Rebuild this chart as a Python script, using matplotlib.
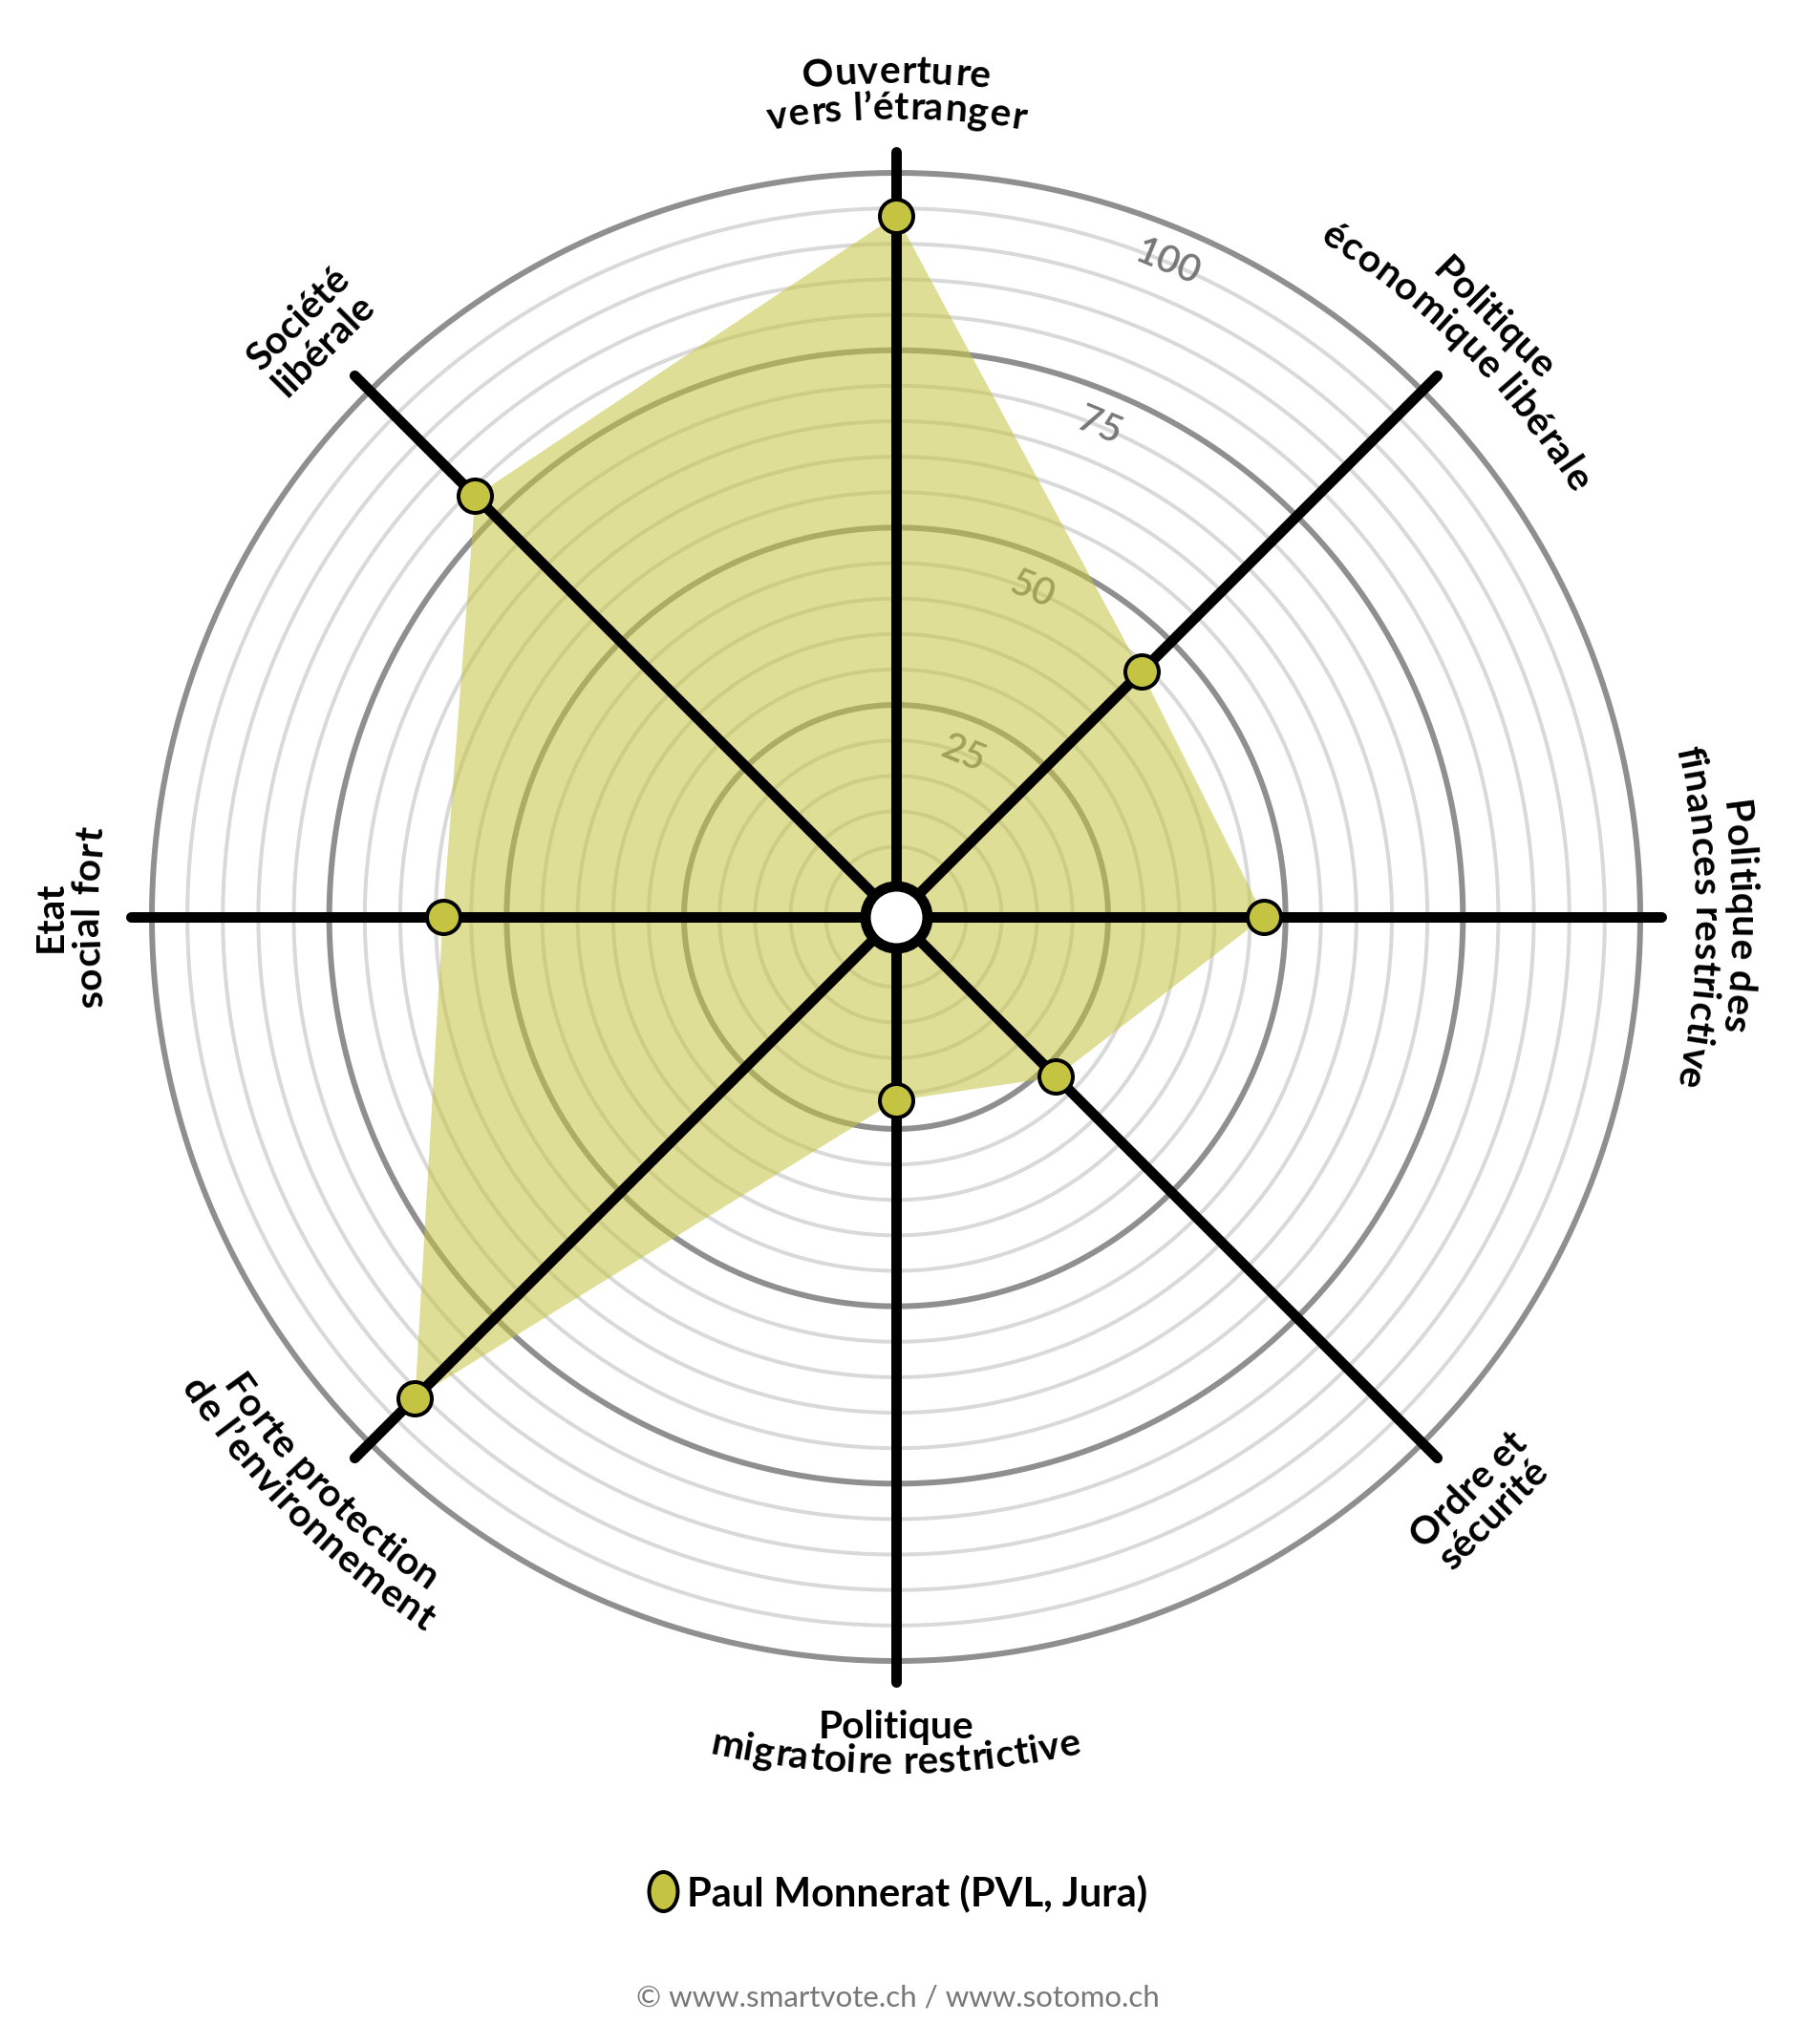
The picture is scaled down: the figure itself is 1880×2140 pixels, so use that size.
import matplotlib
import numpy as np

matplotlib.use("Agg")
import matplotlib.pyplot as plt  # noqa: E402
from matplotlib.font_manager import FontProperties  # noqa: E402
from matplotlib.lines import Line2D  # noqa: E402
from matplotlib.path import Path  # noqa: E402
from matplotlib.textpath import TextPath  # noqa: E402
from matplotlib.transforms import Affine2D  # noqa: E402

# axis labels, clockwise from the top (two lines each)
CATEGORIES = [
    ["Ouverture", "vers l\u2019étranger"],
    ["Politique", "économique libérale"],
    ["Politique des", "finances restrictive"],
    ["Ordre et", "sécurité"],
    ["Politique", "migratoire restrictive"],
    ["Forte protection", "de l\u2019environnement"],
    ["Etat", "social fort"],
    ["Société", "libérale"],
]
VALUES = [94, 44, 47, 27, 21, 91, 59, 79]
SERIES_NAME = "Paul Monnerat (PVL, Jura)"
RING_MAJOR = [25, 50, 75, 100]
RING_MINOR = [v for v in range(5, 100, 5) if v % 25]
TICK_LABELS = ["25", "50", "75", "100"]
SOURCE = "\u00a9 www.smartvote.ch / www.sotomo.ch"

# layout, in output pixels
W, H, DPI = 1880, 2140, 100
CX, CY = 938, 960
PX_PER_UNIT = 7.427
R0_PX = 36.3
RMAX = 106
RORIGIN = -R0_PX / PX_PER_UNIT

FILL = "#c5c442"
DARK_RING = "#8f8f8f"
LIGHT_RING = "#d9d9d9"
PX = 0.72  # points per pixel at 100 dpi
TRACK = 1.035  # a little letter spacing, the original face is wider

plt.rcParams["font.family"] = ["Lato", "DejaVu Sans"]


def px_to_r(px):
    return px / PX_PER_UNIT + RORIGIN


def ink(s, prop):
    ext = TextPath((0, 0), s, prop=prop).get_extents()
    return ext.x0 * DPI / 72, ext.x1 * DPI / 72


# text along a circle of radius radius_px around the centre;
# short lines hardly bend, so they are drawn in one piece
def curved_text(ax, s, theta_deg, radius_px, prop, upper):
    r = px_to_r(radius_px)
    a0, a1 = ink(s, prop)
    half_ang = (a1 - a0) / 2 / radius_px
    if radius_px * (1 - np.cos(half_ang)) < 4:
        rot = -theta_deg if upper else 180 - theta_deg
        ax.text(np.radians(theta_deg), r, s, fontproperties=prop, rotation=rot,
                rotation_mode="anchor", ha="center", va="baseline", zorder=6)
        return
    centre = (a0 + a1) / 2
    for i, ch in enumerate(s):
        if ch == " ":
            continue
        right = ink(s[: i + 1], prop)[1]
        c0, c1 = ink(ch, prop)
        mid = (right - (c1 - c0) / 2 - centre) * TRACK
        d = np.degrees(mid / radius_px)
        th = theta_deg + d if upper else theta_deg - d
        rot = -th if upper else 180 - th
        ax.text(np.radians(th), r, ch, fontproperties=prop, rotation=rot,
                rotation_mode="anchor", ha="center", va="baseline", zorder=6)


def main():
    fig = plt.figure(figsize=(W / DPI, H / DPI), dpi=DPI)
    half = (RMAX - RORIGIN) * PX_PER_UNIT
    ax = fig.add_axes([(CX - half) / W, (H - CY - half) / H, 2 * half / W, 2 * half / H],
                      projection="polar")
    ax.set_theta_zero_location("N")
    ax.set_theta_direction(-1)
    ax.set_ylim(0, RMAX)
    ax.set_rorigin(RORIGIN)
    ax.set_xticks([])
    ax.set_yticks([])
    ax.grid(False)
    for sp in ax.spines.values():
        sp.set_visible(False)
    ax.patch.set_visible(False)

    n = len(CATEGORIES)
    angles = np.arange(n) * 2 * np.pi / n
    circ = np.linspace(0, 2 * np.pi, 721)

    for v in RING_MINOR:
        ax.plot(circ, np.full_like(circ, v), color=LIGHT_RING, lw=4 * PX, zorder=1)
    for v in RING_MAJOR:
        ax.plot(circ, np.full_like(circ, v), color=DARK_RING, lw=6 * PX, zorder=1.2)

    tick_th = np.radians(22.5)
    tick_prop = FontProperties(family=["Lato", "DejaVu Sans"], weight="semibold", size=29)
    for v, lab in zip(RING_MAJOR, TICK_LABELS):
        ax.text(tick_th, v - 5, lab, rotation=-22.5, rotation_mode="anchor",
                ha="center", va="center", fontproperties=tick_prop,
                color="#777777", zorder=1.5)

    th_closed = np.append(angles, angles[0])
    v_closed = np.append(VALUES, VALUES[0])
    ax.fill(th_closed, v_closed, color=FILL, alpha=0.55, lw=0, zorder=2)

    for a in angles:
        ax.plot([a, a], [0, 103], color="black", lw=11 * PX,
                solid_capstyle="round", zorder=3)

    ax.plot(angles, VALUES, "o", ms=35 * PX, mfc=FILL, mec="black",
            mew=4 * PX, linestyle="none", zorder=4)
    ax.plot([0.5], [0.5], "o", transform=ax.transAxes, ms=65 * PX, mfc="white",
            mec="black", mew=11 * PX, clip_on=False, zorder=5)

    prop = FontProperties(family=["Lato", "DejaVu Sans"], weight="bold", size=29.3)
    for a, lines in zip(np.degrees(angles), CATEGORIES):
        upper = a <= 90 or a >= 270
        if upper:
            radii = [873, 835]
        else:
            radii = [860, 897]
        for s, rpx in zip(lines, radii):
            curved_text(ax, s, a, rpx, prop, upper)

    ell = Path.unit_circle().transformed(Affine2D().scale(0.73, 1.0))
    handle = Line2D([], [], marker=ell, ms=41 * PX, mfc=FILL, mec="black",
                    mew=4 * PX, linestyle="none")
    fig.legend([handle], [SERIES_NAME], loc="center", bbox_to_anchor=(0.5, 1 - 1982 / H),
               frameon=False, handlelength=0.7, handletextpad=0.25,
               prop=FontProperties(family=["Lato", "DejaVu Sans"], weight="bold", size=30))

    fig.text(0.5, 1 - 2100 / H, SOURCE, ha="center", va="baseline",
             fontsize=22.5, color="#777777")

    fig.savefig("out.png", dpi=DPI, facecolor="white")
    plt.close(fig)


if __name__ == "__main__":
    main()
